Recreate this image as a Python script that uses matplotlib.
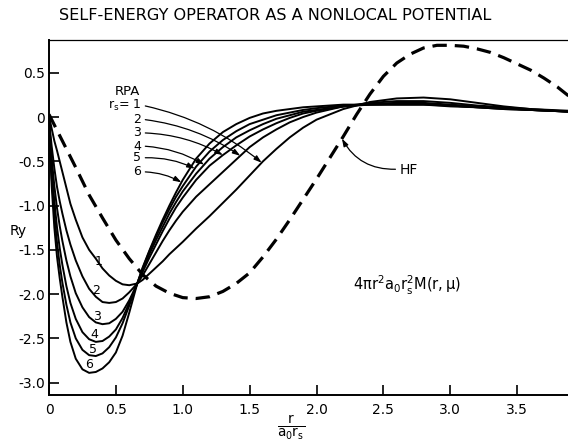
import numpy as np
import matplotlib.pyplot as plt

plt.rcParams['font.family'] = ['DejaVu Sans']
plt.rcParams['mathtext.fontset'] = 'dejavusans'

# r / (a0 rs) grid shared by the RPA curves
r_grid = [0, 0.01, 0.02, 0.04, 0.06, 0.08, 0.10, 0.13, 0.16, 0.20, 0.25, 0.30, 0.35,
          0.40, 0.45, 0.50, 0.55, 0.60, 0.66, 0.70, 0.75, 0.80, 0.85, 0.90, 0.95, 1.00,
          1.10, 1.20, 1.30, 1.40, 1.50, 1.60, 1.70, 1.80, 1.90, 2.00, 2.20, 2.40, 2.60,
          2.80, 3.00, 3.20, 3.40, 3.60, 3.90]

# RPA curves, one per rs value (Ry)
rpa_rs1 = [0.02, -0.06, -0.13, -0.27, -0.38, -0.50, -0.62, -0.80, -0.98, -1.16, -1.36, -1.50, -1.60,
           -1.71, -1.79, -1.85, -1.89, -1.90, -1.88, -1.84, -1.77, -1.70, -1.63, -1.55, -1.48, -1.41,
           -1.26, -1.12, -0.97, -0.82, -0.66, -0.50, -0.36, -0.23, -0.12, -0.03, 0.09, 0.17, 0.21,
           0.22, 0.20, 0.16, 0.12, 0.09, 0.06]
rpa_rs2 = [0.02, -0.18, -0.33, -0.58, -0.79, -0.95, -1.09, -1.28, -1.44, -1.62, -1.80, -1.94, -2.03,
           -2.09, -2.10, -2.09, -2.05, -1.98, -1.88, -1.79, -1.66, -1.53, -1.40, -1.28, -1.17, -1.07,
           -0.90, -0.76, -0.62, -0.48, -0.34, -0.23, -0.14, -0.06, 0.00, 0.05, 0.12, 0.16, 0.18,
           0.18, 0.16, 0.13, 0.11, 0.09, 0.07]
rpa_rs3 = [0.02, -0.26, -0.46, -0.78, -1.03, -1.23, -1.40, -1.62, -1.80, -1.99, -2.15, -2.26, -2.32,
           -2.34, -2.33, -2.28, -2.20, -2.07, -1.88, -1.75, -1.59, -1.44, -1.29, -1.15, -1.02, -0.91,
           -0.71, -0.55, -0.43, -0.32, -0.22, -0.14, -0.07, -0.01, 0.04, 0.07, 0.12, 0.15, 0.16,
           0.16, 0.14, 0.12, 0.10, 0.08, 0.06]
rpa_rs4 = [0.02, -0.33, -0.58, -0.95, -1.25, -1.48, -1.67, -1.91, -2.10, -2.28, -2.43, -2.51, -2.54,
           -2.53, -2.48, -2.40, -2.27, -2.10, -1.88, -1.73, -1.55, -1.39, -1.24, -1.09, -0.96, -0.84,
           -0.64, -0.47, -0.34, -0.23, -0.15, -0.08, -0.02, 0.02, 0.06, 0.08, 0.12, 0.14, 0.15,
           0.15, 0.13, 0.11, 0.10, 0.08, 0.06]
rpa_rs5 = [0.02, -0.39, -0.68, -1.10, -1.42, -1.67, -1.87, -2.12, -2.32, -2.50, -2.63, -2.69, -2.70,
           -2.67, -2.60, -2.49, -2.33, -2.13, -1.88, -1.71, -1.52, -1.35, -1.19, -1.04, -0.90, -0.78,
           -0.56, -0.39, -0.26, -0.16, -0.08, -0.03, 0.02, 0.05, 0.08, 0.10, 0.13, 0.14, 0.14,
           0.14, 0.13, 0.11, 0.09, 0.08, 0.06]
rpa_rs6 = [0.02, -0.45, -0.78, -1.25, -1.58, -1.82, -2.03, -2.32, -2.54, -2.73, -2.85, -2.89, -2.88,
           -2.84, -2.77, -2.66, -2.47, -2.21, -1.88, -1.70, -1.51, -1.33, -1.16, -1.00, -0.85, -0.71,
           -0.47, -0.30, -0.17, -0.08, -0.01, 0.04, 0.07, 0.09, 0.11, 0.12, 0.14, 0.14, 0.14,
           0.14, 0.12, 0.11, 0.09, 0.08, 0.06]
rs_labels = ['1', '2', '3', '4', '5', '6']

# Hartree-Fock curve
hf_r = [0, 0.1, 0.2, 0.3, 0.4, 0.5, 0.6, 0.7, 0.8, 0.9, 1.0, 1.1, 1.2, 1.3, 1.4, 1.5, 1.6, 1.7,
        1.8, 1.9, 2.0, 2.1, 2.2, 2.3, 2.4, 2.5, 2.6, 2.7, 2.8, 2.9, 3.0, 3.1, 3.2, 3.3, 3.4,
        3.5, 3.6, 3.7, 3.8, 3.9]
hf_y = [0.03, -0.27, -0.57, -0.88, -1.14, -1.39, -1.60, -1.78, -1.91, -1.99, -2.04, -2.05, -2.03,
        -1.97, -1.88, -1.76, -1.58, -1.38, -1.16, -0.93, -0.70, -0.46, -0.22, 0.03, 0.26, 0.46,
        0.61, 0.71, 0.78, 0.81, 0.81, 0.80, 0.77, 0.73, 0.67, 0.60, 0.53, 0.44, 0.34, 0.22]

x_ticks = [0, 0.5, 1.0, 1.5, 2.0, 2.5, 3.0, 3.5]
x_ticklabels = ['0', '0.5', '1.0', '1.5', '2.0', '2.5', '3.0', '3.5']
y_ticks = [0.5, 0, -0.5, -1.0, -1.5, -2.0, -2.5, -3.0]
y_ticklabels = ['0.5', '0', '-0.5', '-1.0', '-1.5', '-2.0', '-2.5', '-3.0']

rpa_curves = [rpa_rs1, rpa_rs2, rpa_rs3, rpa_rs4, rpa_rs5, rpa_rs6]

fig = plt.figure(figsize=(5.68, 4.45), dpi=100)
ax = fig.add_axes([49 / 568, 1 - 395 / 445, 1 - 49 / 568, 355 / 445])

for ys in rpa_curves:
    ax.plot(r_grid, ys, color='black', lw=1.4, solid_capstyle='round')
ax.plot(hf_r, hf_y, color='black', lw=2.3, dashes=(4.5, 2.5))

ax.set_xlim(0, 3.88)
ax.set_ylim(-3.14, 0.87)
ax.set_xticks(x_ticks)
ax.set_xticklabels(x_ticklabels)
ax.set_yticks(y_ticks)
ax.set_yticklabels(y_ticklabels)
ax.tick_params(direction='in', length=7, width=1.2, labelsize=10)
ax.tick_params(axis='y', pad=3)
ax.tick_params(axis='x', pad=6)
ax.spines['right'].set_visible(False)
ax.spines['left'].set_linewidth(1.4)
ax.spines['bottom'].set_linewidth(1.4)
ax.spines['top'].set_linewidth(0.9)

# labels of the curve minima
min_lab_x = [0.37, 0.35, 0.36, 0.34, 0.33, 0.30]
min_lab_y = [-1.63, -1.96, -2.25, -2.46, -2.63, -2.80]
for lab, xx, yy in zip(rs_labels, min_lab_x, min_lab_y):
    ax.text(xx, yy, lab, fontsize=9, ha='center', va='center')

# RPA key with arrows
ax.text(0.585, 0.29, 'RPA', fontsize=9.5, ha='center', va='center')
ax.text(0.69, 0.135, r'$\mathrm{r_s}$= 1', fontsize=9, ha='right', va='center')
key_y = [0.125, -0.03, -0.18, -0.33, -0.46, -0.62]
tip_x = [1.59, 1.43, 1.30, 1.16, 1.09, 0.99]
for i, (ys, ky, tx) in enumerate(zip(rpa_curves, key_y, tip_x)):
    if i > 0:
        ax.text(0.66, ky, rs_labels[i], fontsize=9, ha='center', va='center')
    ty = np.interp(tx, r_grid, ys)
    ax.annotate('', xy=(tx, ty), xytext=(0.72, ky),
                arrowprops=dict(arrowstyle='-|>,head_length=0.45,head_width=0.15', color='black',
                                lw=0.9, shrinkA=0, shrinkB=0,
                                connectionstyle='arc3,rad=-0.12'))

# HF label
hf_tip = 2.19
ax.text(2.62, -0.60, 'HF', fontsize=10, ha='left', va='center')
ax.annotate('', xy=(hf_tip, np.interp(hf_tip, hf_r, hf_y)), xytext=(2.59, -0.59),
            arrowprops=dict(arrowstyle='-|>,head_length=0.45,head_width=0.15', color='black',
                            lw=0.9, shrinkA=0, shrinkB=0,
                            connectionstyle='arc3,rad=-0.3'))

ax.text(2.68, -1.90, r'$\mathrm{4\pi r^2 a_0 r_s^2 M(r,\mu)}$', fontsize=10.5,
        ha='center', va='center')

fig.text(275 / 568, 1 - 16 / 445, 'SELF-ENERGY OPERATOR AS A NONLOCAL POTENTIAL',
         fontsize=11.6, ha='center', va='center')
fig.text(18 / 568, 1 - 231 / 445, 'Ry', fontsize=10, ha='center', va='center')
fig.text(291 / 568, 1 - 428 / 445, r'$\frac{\mathrm{r}}{\mathrm{a_0 r_s}}$', fontsize=14,
         ha='center', va='center')

fig.savefig('out.png', dpi=100)
